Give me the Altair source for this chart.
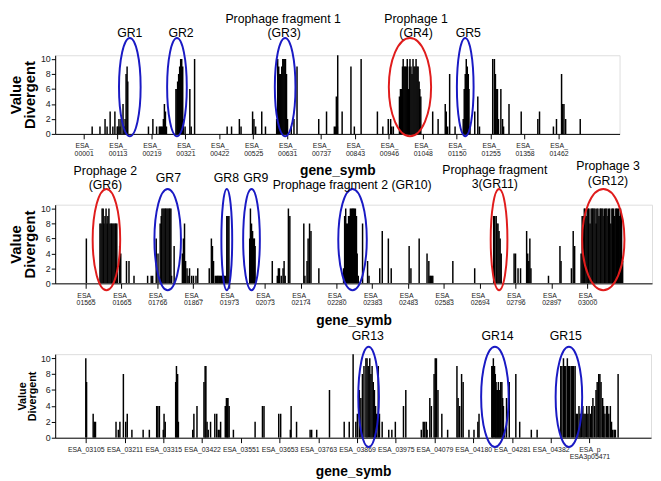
import json
import altair as alt
import pandas as pd

FONT = "Liberation Sans"
BLUE = "#1a1ac4"
RED = "#e01c1c"

# ---------------- Panel 1 ----------------
p1_pos = [25, 48, 63, 69, 78, 86, 92, 99, 101, 104, 107, 110, 116, 119, 122, 125, 128, 130,
          191, 204, 215, 223, 226, 229, 232, 235, 238, 241, 244,
          272, 275, 277, 280, 283, 286, 289, 292, 294, 299, 313, 317, 327,
          423, 436, 459, 464, 498, 502, 507, 525, 536,
          569, 572, 575, 578, 581, 584, 587, 590, 593, 595, 598, 601, 612, 620, 629, 693, 716,
          739, 743, 745, 748, 749, 762, 788, 798, 818, 866, 882, 898, 905, 908, 913,
          931, 934, 937, 940, 942, 945, 948, 951, 954, 957, 960, 962, 965, 968, 971, 974, 977, 980, 983, 986, 989, 991, 994,
          1029, 1045, 1066, 1069, 1073, 1079, 1095,
          1119, 1122, 1125, 1128, 1131, 1134, 1136, 1139, 1153, 1162, 1167,
          1206, 1211, 1214, 1218, 1220, 1223, 1230, 1235, 1238, 1254, 1290, 1339, 1344, 1385, 1394, 1409, 1412, 1416, 1421, 1464]
p1_val = [1, 1, 2, 1, 3, 1, 3, 1, 1, 2, 1, 2, 4, 1, 2, 8, 9, 7,
          1, 2, 1, 1, 1, 1, 1, 2, 4, 3, 1,
          6, 6, 7, 8, 9, 10, 10, 9, 2, 1, 6, 1, 10,
          1, 1, 2, 1, 3, 2, 1, 3, 1,
          2, 10, 9, 8, 8, 9, 10, 10, 10, 10, 8, 2, 1, 2, 9, 2, 3,
          1, 1, 5, 1, 11, 3, 9, 1, 10, 3, 1, 2, 2, 1, 1,
          5, 6, 6, 9, 10, 9, 9, 9, 10, 6, 9, 10, 9, 8, 10, 9, 9, 10, 9, 9, 7, 6, 5,
          3, 2, 4, 3, 1, 8, 1,
          2, 6, 8, 10, 9, 8, 6, 1, 3, 5, 1,
          10, 10, 8, 6, 6, 2, 6, 2, 1, 4, 3, 2, 3, 1, 2, 8, 4, 4, 2, 2]
p1_ticks = [0, 100, 200, 300, 400, 500, 600, 700, 800, 900, 1000, 1100, 1200, 1300, 1400]
p1_labels = [["ESA_", n] for n in ["00001", "00113", "00219", "00321", "00422", "00525", "00631", "00737",
                                   "00843", "00946", "01048", "01150", "01255", "01358", "01462"]]
p1_ell_pos = [136, 275, 594, 962, 1125]
p1_ell_w = [22, 20, 21, 43, 17]
p1_ell_col = [BLUE, BLUE, BLUE, RED, BLUE]
p1_txt = ["GR1", "GR2", "Prophage fragment 1", "(GR3)", "Prophage 1", "(GR4)", "GR5"]
p1_txt_pos = [136, 287, 588, 591, 980, 980, 1134]
p1_txt_val = [13.5, 13.5, 15.3, 13.4, 15.3, 13.4, 13.5]

# ---------------- Panel 2 ----------------
p2_pos = [2, 40, 43, 46, 49, 51, 54, 57, 60, 62, 65, 68, 71, 73, 76, 79, 82, 84, 87, 89, 95, 98, 114, 121, 135, 173, 183, 187, 197, 202,
          208, 211, 213, 216, 219, 222, 224, 227, 230, 233, 235, 238, 240, 247, 270, 273, 276, 279, 283, 286, 290, 296, 301, 308, 313,
          345, 351, 354, 357, 362, 365, 368, 370, 373, 376, 379, 381, 384, 387, 390, 394, 397, 400,
          458, 460, 463, 466, 469, 471, 473, 521, 535, 538, 541, 546, 551, 554, 557, 566, 570, 609, 612, 618, 621, 625, 629, 651,
          720, 723, 726, 728, 731, 734, 736, 739, 742, 745, 747, 750, 753, 756, 758, 761,
          773, 787, 791, 821, 828, 845, 853, 903, 908, 931, 953, 958, 961, 963, 966, 969, 1025, 1086,
          1139, 1142, 1146, 1148, 1151, 1154, 1157, 1160, 1196, 1200, 1207, 1214, 1231, 1234, 1237, 1240, 1243, 1292, 1324, 1327, 1356, 1361, 1365,
          1383, 1386, 1389,
          1392, 1394, 1397, 1400, 1403, 1405, 1408, 1411, 1414, 1416,
          1419, 1422, 1425, 1427, 1430, 1433, 1436, 1438, 1441, 1444,
          1447, 1449, 1452, 1455, 1458, 1460, 1463, 1466, 1469, 1471,
          1474, 1477, 1480, 1482, 1485, 1488, 1491, 1493, 1496, 1499]
p2_val = [6, 8, 8, 10, 10, 8, 9, 10, 8, 9, 10, 8, 8, 8, 8, 8, 8, 8, 8, 2, 5, 4, 3, 3, 1, 1, 1, 1, 6, 4,
          8, 9, 10, 10, 10, 10, 10, 10, 10, 10, 10, 10, 1, 5, 4, 6, 8, 3, 2, 1, 2, 1, 1, 1, 2,
          2, 6, 5, 3, 1, 1, 1, 1, 1, 1, 1, 1, 1, 1, 1, 9, 9, 9,
          6, 10, 8, 7, 6, 6, 5, 3, 1, 2, 2, 1, 2, 3, 1, 10, 9, 8, 1, 3, 6, 8, 7, 2,
          2, 9, 10, 8, 8, 9, 9, 10, 10, 10, 10, 10, 10, 9, 4, 1,
          8, 3, 1, 2, 7, 6, 2, 5, 2, 6, 4, 3, 1, 1, 1, 1, 3, 2,
          9, 9, 9, 8, 8, 7, 6, 4, 4, 4, 2, 2, 7, 4, 3, 6, 2, 1, 5, 3, 2, 7, 5,
          4, 9, 9,
          10, 10, 9, 10, 10, 10, 8, 10, 10, 10,
          10, 10, 8, 10, 10, 9, 10, 10, 10, 10,
          9, 10, 10, 10, 9, 10, 10, 8, 10, 10,
          10, 9, 10, 10, 10, 10, 9, 10, 9, 3]
p2_ticks = [0, 100, 200, 300, 400, 500, 600, 700, 800, 900, 1000, 1100, 1200, 1300, 1400]
p2_labels = [["ESA_", n] for n in ["01565", "01665", "01766", "01867", "01973", "02073", "02174", "02280",
                                   "02383", "02483", "02583", "02694", "02796", "02897", "03000"]]
p2_ell_pos = [58, 229, 394, 463, 745, 1154, 1445]
p2_ell_w = [28, 27, 11, 17, 29, 17, 43]
p2_ell_col = [RED, BLUE, BLUE, BLUE, BLUE, RED, RED]
p2_txt = ["Prophage 2", "(GR6)", "GR7", "GR8", "GR9", "Prophage fragment 2 (GR10)",
          "Prophage fragment", "3(GR11)", "Prophage 3", "(GR12)"]
p2_txt_pos = [55, 55, 231, 393, 475, 744, 1142, 1142, 1458, 1458]
p2_txt_val = [14.96, 13.1, 14.04, 14.04, 14.04, 13.1, 15.1, 13.2, 15.6, 13.7]

# ---------------- Panel 3 ----------------
p3_pos = [0, 2, 19, 22, 25, 78, 84, 88, 97, 103, 107, 119, 148, 164, 183, 186, 190, 200, 202, 205,
          232, 234, 237, 239, 276, 279, 287, 305, 308, 310, 313, 316, 322, 333, 338, 342, 346, 348, 360, 363,
          365, 367, 370, 381, 437, 456, 460, 498, 503, 528, 530, 544, 579, 583, 596,
          629, 667, 680, 690, 697, 701, 706, 710, 714, 718, 723, 726, 729, 733, 736, 739, 742, 745, 748, 751,
          755, 758, 765, 782, 790, 799, 820, 826,
          866, 871, 875, 879, 881, 888, 892, 899, 902, 905, 909, 919, 934, 958, 961, 965, 970, 974, 989, 1002, 1012, 1015,
          1048, 1050, 1052, 1055, 1057, 1059, 1061, 1063, 1065, 1067, 1069, 1071, 1074, 1076, 1078, 1081, 1086, 1093, 1110, 1120, 1150, 1165,
          1226, 1229, 1233, 1236, 1239, 1243, 1246, 1249, 1253, 1256,
          1259, 1263, 1266, 1269, 1273, 1276, 1279, 1283, 1286, 1289,
          1293, 1296, 1299, 1303, 1306, 1309, 1313, 1317, 1320, 1324,
          1327, 1330, 1334, 1337, 1340, 1344, 1347, 1350, 1354, 1357,
          1360, 1364, 1367, 1374]
p3_val = [10, 7, 3, 2, 2, 2, 1, 2, 8, 2, 3, 1, 1, 1, 4, 4, 4, 1, 3, 2,
          7, 9, 8, 2, 1, 3, 4, 7, 9, 9, 2, 1, 2, 3, 3, 1, 1, 2, 4, 5,
          5, 5, 4, 1, 2, 4, 4, 3, 3, 1, 4, 2, 1, 1, 1,
          6, 2, 2, 11, 2, 3, 6, 5, 8, 9, 10, 10, 9, 10, 8, 9, 7, 6, 4, 3,
          9, 3, 2, 1, 1, 2, 4, 6,
          1, 2, 2, 2, 1, 5, 4, 8, 10, 10, 6, 3, 1, 9, 5, 4, 8, 7, 1, 1, 2, 3,
          9, 9, 10, 9, 8, 7, 6, 6, 7, 6, 6, 7, 7, 5, 4, 1, 5, 7, 8, 2, 1, 1,
          9, 9, 10, 9, 9, 10, 9, 9, 9, 9,
          9, 9, 3, 3, 4, 3, 3, 4, 3, 3,
          4, 3, 4, 3, 4, 5, 4, 6, 7, 8,
          8, 7, 5, 4, 3, 4, 4, 3, 4, 2,
          1, 1, 1, 8]
p3_ticks = [0, 100, 200, 300, 400, 500, 600, 700, 800, 900, 1000, 1100, 1200, 1300]
p3_labels = ["ESA_03105", "ESA_03211", "ESA_03315", "ESA_03422", "ESA_03551", "ESA_03653", "ESA_03763",
             "ESA_03869", "ESA_03975", "ESA_04079", "ESA_04180", "ESA_04281", "ESA_04382", ["ESA_p", "ESA3p05471"]]
p3_ell_pos = [730, 1056, 1247]
p3_ell_w = [21, 28, 27]
p3_ell_col = [BLUE, BLUE, BLUE]
p3_txt = ["GR13", "GR14", "GR15"]
p3_txt_pos = [728, 1063, 1239]
p3_txt_val = [12.8, 12.8, 12.8]


def ellipse_path(w, h):
    a = w / h
    k = 0.5523
    f = lambda v: f"{v:.4f}"
    return (f"M {f(a)},0 C {f(a)},{f(k)} {f(a*k)},1 0,1 C {f(-a*k)},1 {f(-a)},{f(k)} {f(-a)},0 "
            f"C {f(-a)},{f(-k)} {f(-a*k)},-1 0,-1 C {f(a*k)},-1 {f(a)},{f(-k)} {f(a)},0 Z")


def panel(pos, val, dom, ticks, labels, ell_pos, ell_w, ell_col, ell_val, ell_h,
          txt, txt_pos, txt_val, width, height, ytitle_size, xtitle_pad):
    bars = pd.DataFrame({"pos": pos, "val": val})
    ell = pd.DataFrame({
        "pos": ell_pos, "val": [ell_val] * len(ell_pos),
        "shp": [ellipse_path(w, ell_h) for w in ell_w],
        "sz": [ell_h * ell_h] * len(ell_pos),
        "col": ell_col,
    })
    tx = pd.DataFrame({"pos": txt_pos, "val": txt_val, "txt": txt})

    xs = alt.Scale(domain=dom, nice=False, zero=False)
    ys = alt.Scale(domain=[0, 10.5], nice=False, zero=True)
    label_expr = f"{json.dumps(labels)}[round(datum.value / 100)]"
    xaxis = alt.Axis(values=ticks, labelExpr=label_expr, title="gene_symb", grid=False,
                     tickSize=5, tickColor="black", domainColor="black",
                     labelFontSize=7, labelLineHeight=7.5, labelPadding=3, labelColor="#222",
                     labelOverlap=False, labelFlush=False, labelFont=FONT,
                     titleFont=FONT, titleFontSize=14, titleFontWeight="bold", titleColor="black",
                     titlePadding=xtitle_pad)
    yaxis = alt.Axis(values=[0, 2, 4, 6, 8, 10], title=["Value", "Divergent"], grid=False,
                     tickSize=4, tickColor="black", domainColor="black",
                     labelFontSize=9, labelPadding=1, labelColor="#222", labelFont=FONT,
                     titleFont=FONT, titleFontSize=ytitle_size, titleFontWeight="bold",
                     titleColor="black", titleLineHeight=ytitle_size * 0.92, titlePadding=3)
    xenc = alt.X("pos:Q", scale=xs, axis=xaxis)
    yenc = alt.Y("val:Q", scale=ys, axis=yaxis)

    b = alt.Chart(bars).mark_rule(color="black", strokeWidth=1.5, clip=True).encode(
        x=xenc, y=yenc, y2=alt.datum(0))
    e = alt.Chart(ell).mark_point(filled=False, strokeWidth=2, opacity=1).encode(
        x=xenc, y=yenc,
        shape=alt.Shape("shp:N", scale=None),
        size=alt.Size("sz:Q", scale=None),
        stroke=alt.Stroke("col:N", scale=None))
    t = alt.Chart(tx).mark_text(font=FONT, fontSize=12.5, color="black", align="center",
                                baseline="middle").encode(x=xenc, y=yenc, text="txt:N")
    return alt.layer(b, e, t).properties(width=width, height=height)


c1 = panel(p1_pos, p1_val, [-84, 1580], p1_ticks, p1_labels, p1_ell_pos, p1_ell_w, p1_ell_col,
           6.25, 100, p1_txt, p1_txt_pos, p1_txt_val, 574, 80, 15, 8)
c2 = panel(p2_pos, p2_val, [-85, 1581], p2_ticks, p2_labels, p2_ell_pos, p2_ell_w, p2_ell_col,
           5.84, 103, p2_txt, p2_txt_pos, p2_txt_val, 607, 80, 15, 8)
c3 = panel(p3_pos, p3_val, [-79, 1459], p3_ticks, p3_labels, p3_ell_pos, p3_ell_w, p3_ell_col,
           5.13, 102, p3_txt, p3_txt_pos, p3_txt_val, 606, 85, 11, 5)

chart = alt.vconcat(c1, c2, c3, spacing=72, bounds="flush").properties(
    padding={"left": 0, "top": 0, "right": 0, "bottom": 0}
).configure_view(stroke="black", strokeWidth=1, fill="#f2f2f2").configure(font=FONT)

chart.save("out.html", embed_options={"renderer": "svg", "actions": False})
